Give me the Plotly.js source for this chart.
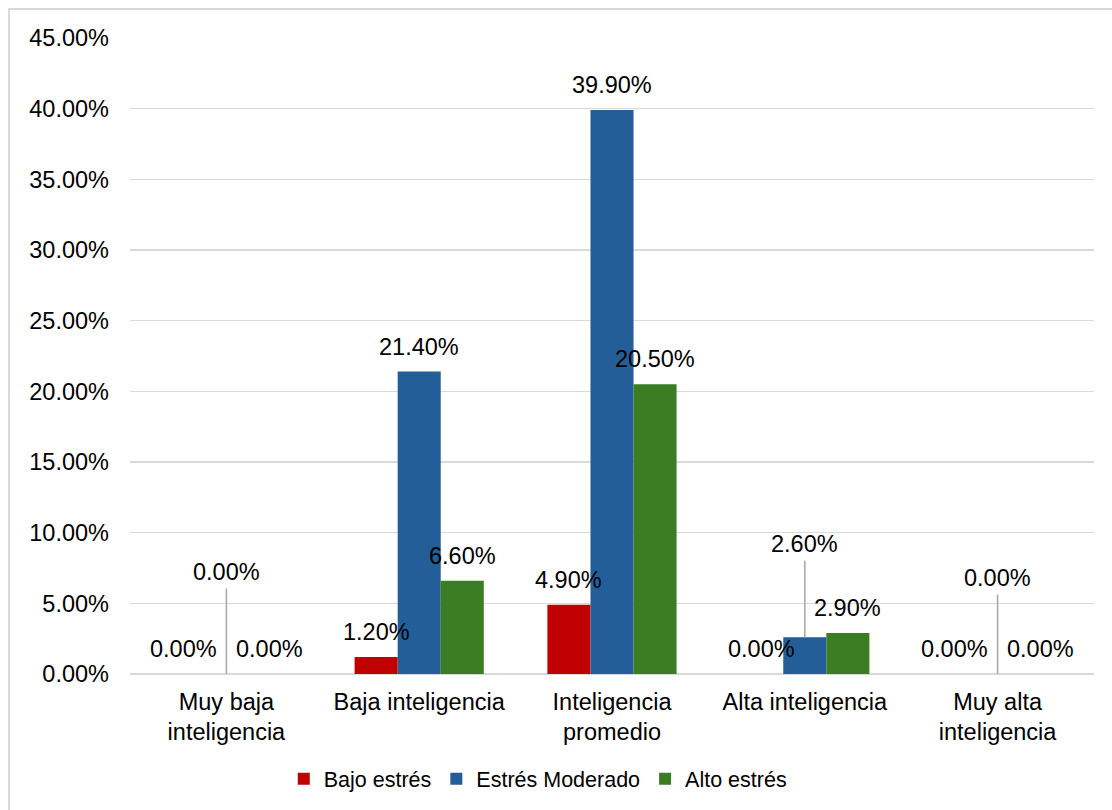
<!DOCTYPE html>
<html>
<head>
<meta charset="utf-8">
<script src="https://cdn.plot.ly/plotly-3.0.1.min.js"></script>
<style>
  html, body { margin: 0; padding: 0; background: #fff; }
  #wrap { position: relative; width: 1112px; height: 810px; }
  #chart { width: 1112px; height: 810px; }
  #frame { position: absolute; left: 8px; top: 8px; width: 1120px; height: 820px;
           border-left: 2px solid #d9d9d9; border-top: 2px solid #d9d9d9; pointer-events: none; }
</style>
</head>
<body>
<div id="wrap">
  <div id="chart"></div>
  <div id="frame"></div>
</div>
<script>
// Categories (inteligencia emocional) and percentages per stress level
const categories = ['Muy baja<br>inteligencia', 'Baja inteligencia', 'Inteligencia<br>promedio', 'Alta inteligencia', 'Muy alta<br>inteligencia'];
const seriesNames = ['Bajo estrés', 'Estrés Moderado', 'Alto estrés'];
const bajoEstres     = [0.0, 1.2, 4.9, 0.0, 0.0];
const estresModerado = [0.0, 21.4, 39.9, 2.6, 0.0];
const altoEstres     = [0.0, 6.6, 20.5, 2.9, 0.0];
const yTicks = [0, 5, 10, 15, 20, 25, 30, 35, 40, 45];

const colors = ['#C00000', '#245E98', '#3A7D23'];
const allSeries = [bajoEstres, estresModerado, altoEstres];
const FONT = 'Liberation Sans, Arial, sans-serif';
const bargap = 0.33;
const step = (1 - bargap) / 3;

const traces = allSeries.map((vals, k) => ({
  type: 'bar',
  name: seriesNames[k],
  x: categories.map((_, i) => i),
  y: vals,
  marker: { color: colors[k], line: { width: 0 } },
  hoverinfo: 'skip'
}));

// Data labels; labels that would overlap are lifted with a leader line
const lifted = { '1-0': -102, '1-3': -93, '1-4': -96 };
const annotations = [];
allSeries.forEach((vals, k) => {
  vals.forEach((v, i) => {
    const key = k + '-' + i;
    const base = {
      x: i + (k - 1) * step, y: v, xref: 'x', yref: 'y',
      text: v.toFixed(2) + '%',
      font: { family: FONT, size: 23.5, color: '#000' }
    };
    if (lifted[key] !== undefined) {
      annotations.push(Object.assign(base, {
        showarrow: true, arrowhead: 0, arrowwidth: 1.5, arrowcolor: '#a6a6a6',
        ax: 0, ay: lifted[key], standoff: 0, startstandoff: 2
      }));
    } else {
      annotations.push(Object.assign(base, {
        showarrow: false, yanchor: 'middle', yshift: 25
      }));
    }
  });
});

const layout = {
  width: 1112, height: 810,
  paper_bgcolor: '#fff', plot_bgcolor: '#fff',
  margin: { l: 130, r: 18, t: 38, b: 135 },
  barmode: 'group', bargap: bargap, bargroupgap: 0,
  font: { family: FONT, color: '#000' },
  xaxis: {
    type: 'linear', range: [-0.5, 4.5],
    tickvals: categories.map((_, i) => i), ticktext: categories,
    showgrid: false, zeroline: false, showline: false, ticks: '',
    tickfont: { family: FONT, size: 23.5, color: '#000' },
    ticklabelstandoff: 11, fixedrange: true
  },
  yaxis: {
    range: [0, 45], tickvals: yTicks,
    ticktext: yTicks.map(t => t.toFixed(2) + '%'),
    showgrid: true, gridcolor: '#d9d9d9', gridwidth: 1.5,
    zeroline: true, zerolinecolor: '#d9d9d9', zerolinewidth: 1.5,
    showline: false, ticks: '', ticklabelstandoff: 20,
    tickfont: { family: FONT, size: 23.5, color: '#000' }, fixedrange: true
  },
  showlegend: true,
  legend: {
    orientation: 'h', x: 0.423, xanchor: 'center', y: -0.163, yanchor: 'middle',
    font: { family: FONT, size: 21.5, color: '#000' },
    traceorder: 'normal', itemclick: false, itemdoubleclick: false
  },
  annotations: annotations
};

Plotly.newPlot('chart', traces, layout, { displayModeBar: false, staticPlot: true });
</script>
</body>
</html>
